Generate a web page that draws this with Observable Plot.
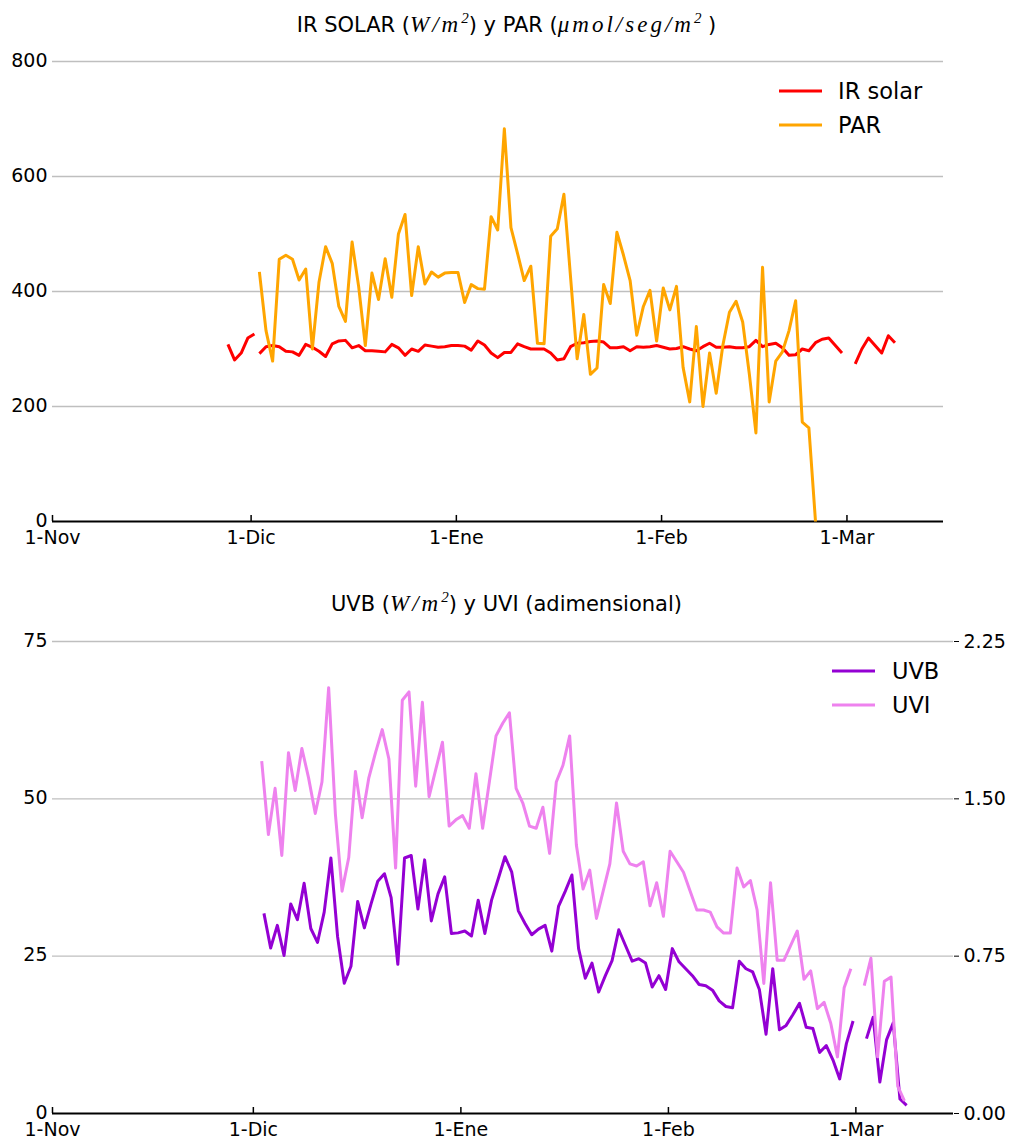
<!DOCTYPE html>
<html>
<head>
<meta charset="utf-8">
<script src="https://cdn.jsdelivr.net/npm/d3@7"></script>
<script src="https://cdn.jsdelivr.net/npm/@observablehq/plot@0.6"></script>
<style>
  body { margin: 0; background: #fff; }
  #page { position: relative; width: 1013px; height: 1140px; font-family: "DejaVu Sans", sans-serif; color: #000; overflow: hidden; }
  .title { position: absolute; left: 0; width: 1013px; text-align: center; font-size: 21px; line-height: 26px; white-space: nowrap; }
  .math { font-family: "Liberation Serif", "DejaVu Serif", serif; font-style: italic; font-size: 23px; letter-spacing: 3px; }
  .math sup { font-size: 15px; line-height: 0; letter-spacing: 0; }
  .panel { position: absolute; left: 0; }
  .legend { position: absolute; font-size: 22.5px; line-height: 26px; }
  .legend .row { display: flex; align-items: flex-start; height: 34px; }
  .legend svg { display: block; }
</style>
</head>
<body>
<div id="page">
  <div class="title" style="top:12px">IR SOLAR (<span class="math">W/m<sup>2</sup></span>) y PAR (<span class="math">μmol/seg/m<sup>2</sup></span> )</div>
  <div class="panel" id="top" style="top:40px"></div>
  <div class="legend" id="legTop" style="left:779px; top:78px"></div>
  <div class="title" style="top:591px">UVB (<span class="math">W/m<sup>2</sup></span>) y UVI (adimensional)</div>
  <div class="panel" id="bottom" style="top:620px"></div>
  <div class="legend" id="legBottom" style="left:832px; top:658px"></div>
</div>
<script>
// ---- axis ticks ----
const monthTicks = ["2014-11-01", "2014-12-01", "2015-01-01", "2015-02-01", "2015-03-01"];
const monthLabels = ["1-Nov", "1-Dic", "1-Ene", "1-Feb", "1-Mar"];
const xDomain = ["2014-11-01T00:00Z", "2015-03-15T14:00Z"];
const topYTicks = [0, 200, 400, 600, 800];
const bottomYTicks = [0, 25, 50, 75];
const uviPerUvb = 0.03; // right axis: 0.00 .. 2.25 for 0 .. 75

// ---- series (daily values) ----
const irSolarStart1 = "2014-11-27T12:00Z";
const irSolar1 = [308, 281, 293, 319, 326];

const dailyStart = "2014-12-02T06:00Z";
const irSolar = [
  292, 304, 306, 304, 296, 295, 289, 308, 303, 296,
  287, 309, 314, 315, 302, 306, 297, 297, 296, 295,
  308, 302, 289, 300, 296, 307, 305, 303, 304, 306,
  306, 305, 298, 314, 307, 293, 285, 294, 294, 309,
  304, 300, 300, 300, 293, 281, 283, 304, 310, 311,
  313, 314, 312, 302, 302, 304, 297, 304, 303, 304,
  306, 303, 300, 301, 304, 300, 297, 304, 310, 303,
  303, 304, 302, 302, 304, 315, 304, 308, 310, 302,
  289, 290, 300, 297, 311, 317, 319, 306, 293,
  null,
  274, 300, 319, 306, 293, 323, 311
];
const par = [
  434, 332, 279, 456, 463, 456, 420, 439, 300, 416,
  478, 449, 374, 348, 486, 408, 306, 432, 386, 457,
  390, 500, 534, 393, 478, 413, 434, 425, 432, 433,
  433, 381, 412, 405, 404, 530, 507, 683, 511, 466,
  419, 444, 310, 309, 496, 509, 569, 425, 283, 360,
  256, 267, 412, 379, 503, 463, 419, 324, 374, 402,
  314, 406, 368, 409, 268, 208, 339, 200, 293, 223,
  306, 364, 383, 347, 257, 154, 442, 208, 279, 295,
  332, 384, 173, 163, 0
];
const uvi = [
  1.68, 1.33, 1.55, 1.23, 1.72, 1.54, 1.74, 1.60, 1.43, 1.58,
  2.03, 1.43, 1.06, 1.22, 1.63, 1.41, 1.60, 1.72, 1.83, 1.69,
  1.17, 1.97, 2.01, 1.56, 1.96, 1.51, 1.64, 1.77, 1.37, 1.40,
  1.42, 1.36, 1.62, 1.36, 1.58, 1.80, 1.86, 1.91, 1.55, 1.48,
  1.37, 1.36, 1.46, 1.24, 1.58, 1.66, 1.80, 1.28, 1.07, 1.16,
  0.93, 1.06, 1.19, 1.48, 1.25, 1.19, 1.18, 1.20, 0.99, 1.10,
  0.94, 1.25, 1.20, 1.15, 1.06, 0.97, 0.97, 0.96, 0.89, 0.86,
  0.86, 1.17, 1.08, 1.11, 0.97, 0.62, 1.10, 0.73, 0.73, 0.80,
  0.87, 0.64, 0.68, 0.50, 0.53, 0.43, 0.27, 0.60, 0.69,
  null,
  0.61, 0.74, 0.27, 0.63, 0.65, 0.13, 0.06
];
const uvbStart = "2014-12-02T14:00Z";
const uvb = [
  31.8, 26.3, 29.9, 25.1, 33.3, 30.8, 36.6, 29.4, 27.2, 32.0,
  40.6, 28.1, 20.7, 23.4, 33.7, 29.5, 33.3, 36.9, 38.1, 34.3,
  23.7, 40.6, 41.0, 32.5, 40.3, 30.6, 34.9, 37.6, 28.6, 28.7,
  29.0, 28.2, 33.9, 28.6, 33.9, 37.3, 40.8, 38.4, 32.2, 30.2,
  28.4, 29.3, 29.9, 25.8, 32.9, 35.3, 37.9, 26.2, 21.5, 23.9,
  19.3, 21.9, 24.3, 29.2, 26.7, 24.2, 24.6, 23.9, 20.1, 21.9,
  19.7, 26.2, 24.1, 23.0, 21.9, 20.5, 20.3, 19.6, 17.9, 17.0,
  16.8, 24.2, 23.0, 22.5, 19.7, 12.6, 23.0, 13.3, 14.0, 15.7,
  17.5, 13.7, 13.5, 9.7, 10.8, 8.5, 5.5, 11.1, 14.7,
  null,
  11.9, 15.3, 5.0, 11.7, 14.4, 2.3, 1.3
];

const colors = { ir: "#ff0000", par: "#ffa500", uvb: "#9400d3", uvi: "#ee82ee" };

// ---- helpers ----
const DAY = 864e5;
function daily(start, values) {
  const t0 = +new Date(start);
  return values.map((v, i) => ({ date: new Date(t0 + i * DAY), value: v == null ? NaN : v }));
}
const tickDates = monthTicks.map(s => new Date(s + "T00:00Z"));
const tickFmt = d => monthLabels[tickDates.findIndex(t => +t === +d)];
const domainX = xDomain.map(s => new Date(s));
const gridStyle = { stroke: "#bfbfbf", strokeOpacity: 1, strokeWidth: 1.4 };
const lineStyle = { strokeWidth: 3, strokeLinejoin: "round", strokeLinecap: "butt" };
const svgStyle = { fontFamily: "DejaVu Sans, sans-serif", fontSize: "19px", background: "transparent", overflow: "visible" };

// ---- top panel ----
const topPlot = Plot.plot({
  width: 1013, height: 520,
  marginTop: 21, marginBottom: 39, marginLeft: 52, marginRight: 70,
  style: svgStyle,
  x: { type: "utc", domain: domainX },
  y: { domain: [0, 800] },
  marks: [
    Plot.gridY(topYTicks.filter(d => d > 0), gridStyle),
    Plot.axisY({ ticks: topYTicks, tickSize: 0, tickPadding: 5, dy: -1, tickFormat: d => String(d), label: null }),
    Plot.axisX({ ticks: tickDates, tickSize: 0, tickPadding: 9, tickFormat: tickFmt, label: null }),
    Plot.ruleY([0], { stroke: "#000", strokeWidth: 2 }),
    Plot.ruleX(tickDates, { x: d => d, y1: 0, y2: 10.5, stroke: "#000", strokeWidth: 1.5 }),
    Plot.lineY(daily(irSolarStart1, irSolar1), { x: "date", y: "value", stroke: colors.ir, ...lineStyle }),
    Plot.lineY(daily(dailyStart, irSolar), { x: "date", y: "value", stroke: colors.ir, ...lineStyle }),
    Plot.lineY(daily(dailyStart, par), { x: "date", y: "value", stroke: colors.par, ...lineStyle })
  ]
});
document.getElementById("top").appendChild(topPlot);

// ---- bottom panel (UVB left axis, UVI right axis) ----
const bottomPlot = Plot.plot({
  width: 1013, height: 520,
  marginTop: 21, marginBottom: 27, marginLeft: 52, marginRight: 60,
  style: svgStyle,
  x: { type: "utc", domain: domainX },
  y: { domain: [0, 75] },
  marks: [
    Plot.gridY(bottomYTicks.filter(d => d > 0), gridStyle),
    Plot.axisY({ ticks: bottomYTicks, tickSize: 0, tickPadding: 5, dy: -1, tickFormat: d => String(d), label: null }),
    Plot.axisY({ anchor: "right", ticks: bottomYTicks, tickSize: 5, tickPadding: 5, tickFormat: d => (d * uviPerUvb).toFixed(2), label: null }),
    Plot.axisX({ ticks: tickDates, tickSize: 0, tickPadding: 9, tickFormat: tickFmt, label: null }),
    Plot.ruleY([0], { stroke: "#000", strokeWidth: 2 }),
    Plot.ruleX(tickDates, { x: d => d, y1: 0, y2: 0.95, stroke: "#000", strokeWidth: 1.5 }),
    Plot.lineY(daily(uvbStart, uvb), { x: "date", y: "value", stroke: colors.uvb, ...lineStyle }),
    Plot.lineY(daily(dailyStart, uvi), { x: "date", y: d => d.value / uviPerUvb, stroke: colors.uvi, ...lineStyle })
  ]
});
document.getElementById("bottom").appendChild(bottomPlot);

// ---- legends ----
function legend(el, items, gap) {
  for (const [label, color] of items) {
    const row = document.createElement("div");
    row.className = "row";
    row.innerHTML = `<svg width="43" height="26"><line x1="0" x2="43" y1="13" y2="13" stroke="${color}" stroke-width="3"/></svg><span style="margin-left:${gap}px">${label}</span>`;
    el.appendChild(row);
  }
}
legend(document.getElementById("legTop"), [["IR solar", colors.ir], ["PAR", colors.par]], 16);
legend(document.getElementById("legBottom"), [["UVB", colors.uvb], ["UVI", colors.uvi]], 17);
</script>
</body>
</html>
